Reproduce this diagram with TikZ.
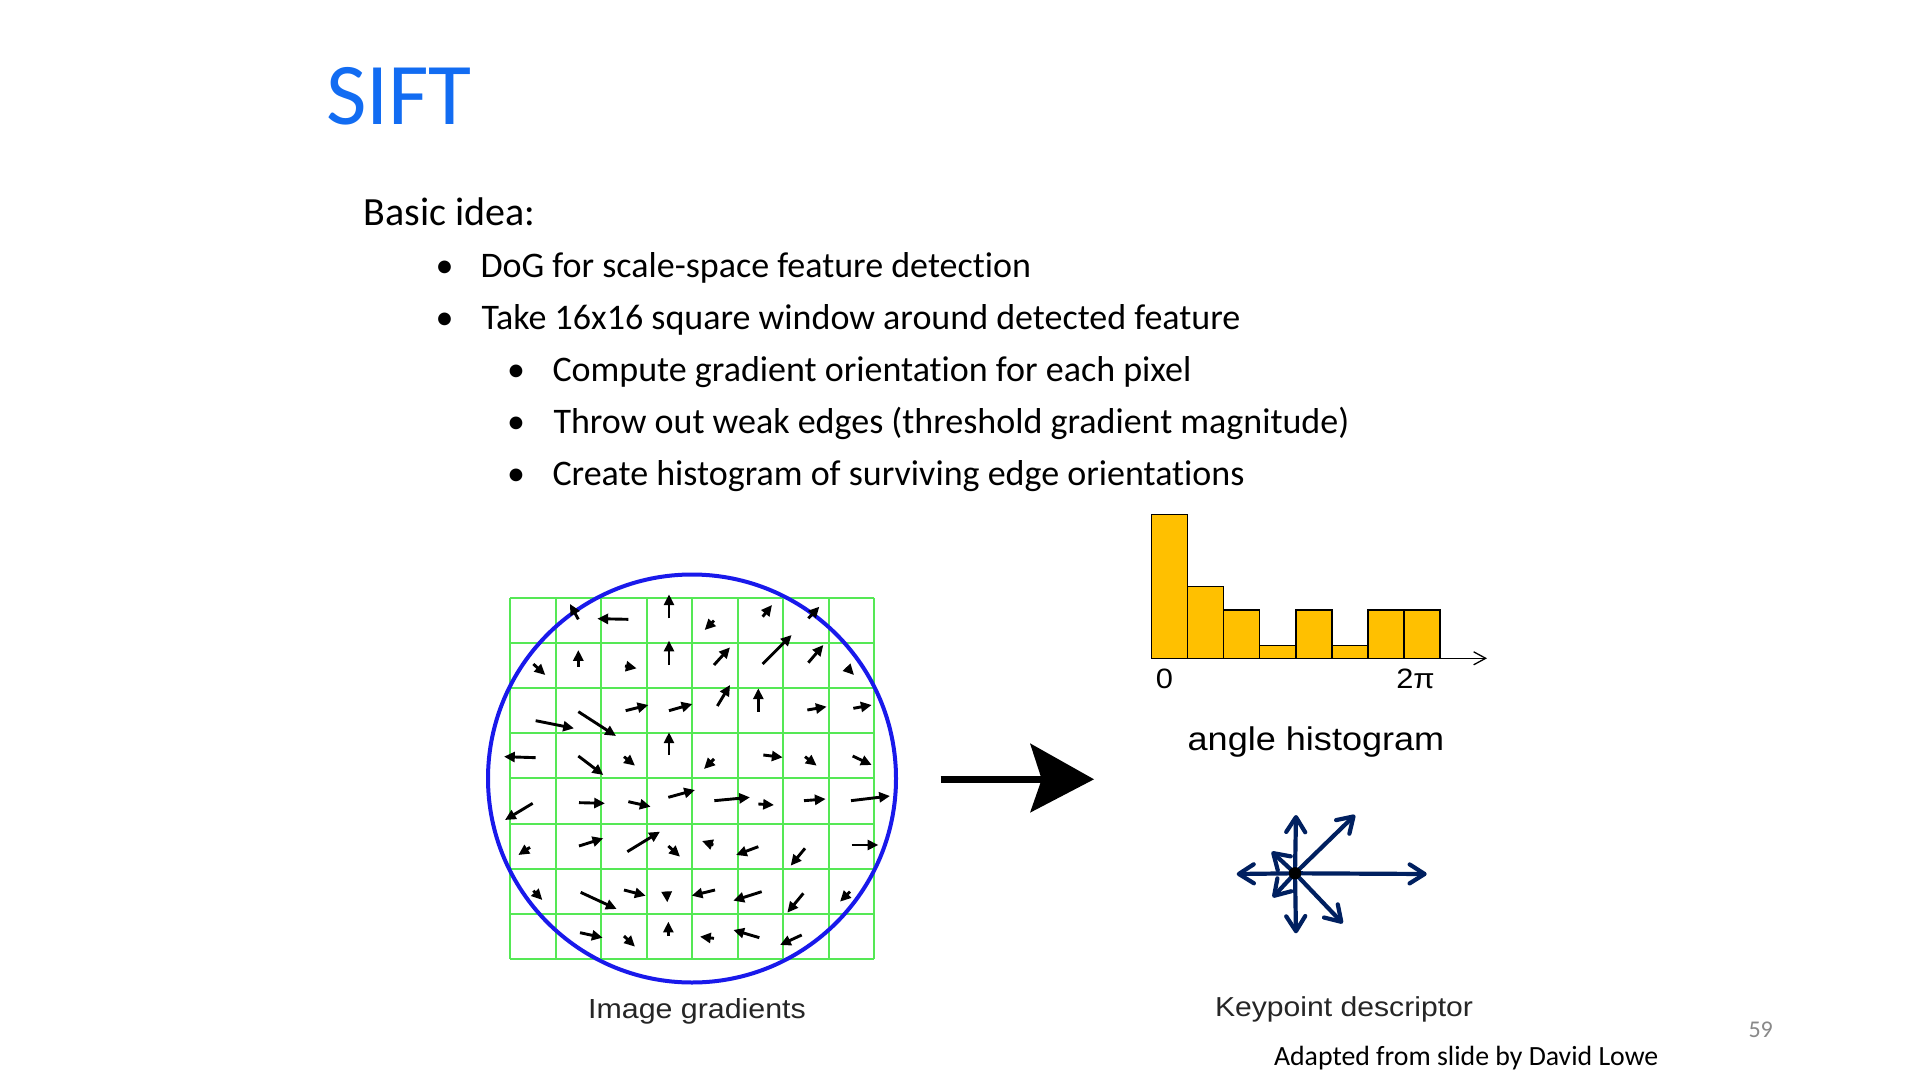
\documentclass[tikz,border=0pt]{standalone}
\usepackage{fontspec}
\setmainfont{Carlito}[Ligatures=NoCommon]
\newfontfamily\figfont[FakeStretch=1.1]{Liberation Sans}
\usetikzlibrary{arrows.meta}

\definecolor{titleblue}{RGB}{18,108,242}
\definecolor{gridgreen}{RGB}{85,232,85}
\definecolor{ringblue}{RGB}{25,25,235}
\definecolor{bargold}{RGB}{255,192,0}
\definecolor{navy}{RGB}{0,32,96}
\definecolor{pagegray}{RGB}{137,137,137}
\definecolor{labelgray}{RGB}{38,38,38}

\tikzset{
  txt/.style={anchor=base west, inner sep=0pt, outer sep=0pt},
  bodytxt/.style={txt, font=\fontsize{18}{22}\selectfont},
  bulletdot/.style={anchor=base, inner sep=0pt, font=\fontsize{18}{22}\selectfont},
  gridline/.style={draw=gridgreen, line width=1pt},
  ring/.style={draw=ringblue, line width=2pt},
  gradarrow/.style={line width=1.45pt, -{Triangle[length=5.4pt,width=5pt]}},
  histbar/.style={fill=bargold, draw=black, line width=0.65pt},
  descarrow/.style={draw=navy, line width=2.1pt, -{Straight Barb[round,length=7.5pt,width=9.5pt]}},
  figlabel/.style={inner sep=0pt, outer sep=0pt, anchor=base}
}

\begin{document}
\begin{tikzpicture}[x=0.5pt, y=-0.5pt]
  % page
  \fill[white] (0,0) rectangle (1920,1080);
  \useasboundingbox (0,0) rectangle (1920,1080);

  % title and bullet list
  \node[txt, text=titleblue, font=\fontsize{44}{50}\selectfont] (title) at (326,125) {SIFT};
  \node[txt, font=\fontsize{20}{24}\selectfont] (basic) at (363.5,226) {Basic idea:};

  \node[bulletdot] (b1) at (444.5,277.5) {\textbullet};
  \node[bodytxt] (l1) at (480.5,277.5) {DoG for scale-space feature detection};
  \node[bulletdot] (b2) at (444.5,329.5) {\textbullet};
  \node[bodytxt] (l2) at (481.5,329.5) {Take 16x16 square window around detected feature};
  \node[bulletdot] (b3) at (516,381.5) {\textbullet};
  \node[bodytxt] (l3) at (552.5,381.5) {Compute gradient orientation for each pixel};
  \node[bulletdot] (b4) at (516,433.5) {\textbullet};
  \node[bodytxt] (l4) at (553.5,433.5) {Throw out weak edges (threshold gradient magnitude)};
  \node[bulletdot] (b5) at (516,485) {\textbullet};
  \node[bodytxt] (l5) at (552.5,485) {Create histogram of surviving edge orientations};

  % 8x8 sample grid
  \foreach \i in {0,...,8} {
    \draw[gridline] ({510+45.5*\i},597.7) -- ({510+45.5*\i},959);
    \draw[gridline] (510,{597.7+45.16*\i}) -- (874,{597.7+45.16*\i});
  }
  % gaussian window
  \draw[ring] (692,778.5) circle[radius=204];

  % gradient arrows, given on a sub-grid three times finer
  \begin{scope}[shift={(480,560)}, scale=1/3]
    \foreach \ax/\ay/\bx/\by in {
      295/178/270/132, 445/178/352/176, 567/175/567/103, 702/182/674/210,
      848/170/876/135, 985/175/1018/140,
      160/312/196/345, 295/320/295/270, 435/318/470/325, 567/315/567/242,
      702/315/750/262, 848/312/935/225, 985/308/1030/255, 1100/322/1122/345,
      437/452/505/435, 567/452/637/432, 712/438/750/375, 835/455/835/385,
      982/450/1040/440, 1120/445/1175/435, 167/482/282/505, 295/455/408/528,
      167/593/72/590, 295/588/370/645, 432/590/465/617, 567/585/567/517,
      702/597/672/627, 850/585/908/592, 975/590/1010/617, 1118/588/1175/615,
      158/730/75/780, 297/728/375/730, 445/725/512/740, 565/712/645/690,
      703/722/810/712, 835/732/882/735, 972/722/1037/717, 1113/722/1230/708,
      150/862/115/885, 297/858/370/835, 442/875/540/815, 565/858/600/890,
      700/855/666/843, 835/860/768/885, 975/865/932/917, 1115/855/1195/855,
      160/992/187/1020, 302/997/410/1047, 432/990/497/1007, 560/995/562/1027,
      705/990/635/1007, 845/995/760/1022, 970/1000/922/1058, 1110/995/1080/1025,
      300/1118/368/1133, 432/1128/465/1160, 565/1128/565/1085, 702/1135/660/1130,
      838/1133/760/1110, 965/1125/900/1155}
      \draw[gradarrow] (\ax,\ay) -- (\bx,\by);
  \end{scope}

  \node[figlabel, text=labelgray, font=\figfont\fontsize{13.8}{16}\selectfont] (imglabel) at (697,1018.3) {Image gradients};

  % big arrow between the panels
  \coordinate (arrTail) at (940.7,779.3);
  \coordinate (arrNotch) at (1041.7,779.3);
  \coordinate (arrTip) at (1094,779.3);
  \draw[line width=3.65pt] (arrTail) -- (arrNotch);
  \fill (arrTip) -- (1030,743.3) -- (arrNotch) -- (1030,812.7) -- cycle;

  % orientation histogram
  \foreach \i/\h in {0/514.3, 1/586.7, 2/610, 3/645.7, 4/610, 5/645.7, 6/610, 7/610}
    \draw[histbar] ({1151.7+36.04*\i},658.3) rectangle ({1151.7+36.04*(\i+1)},\h);
  \coordinate (axL) at (1151.7,658.3);
  \coordinate (axR) at (1487,658.3);
  \draw[line width=0.65pt, -{Straight Barb[length=6pt,width=6.5pt]}] (axL) -- (axR);
  \node[figlabel, font=\figfont\fontsize{14}{16}\selectfont] (zero) at (1164.3,688.5) {0};
  \node[figlabel, font=\figfont\fontsize{14}{16}\selectfont] (twopi) at (1415.5,688.5) {2π};
  \node[figlabel, font=\figfont\fontsize{16.4}{19}\selectfont] (anglab) at (1316,750.5) {angle histogram};

  % keypoint descriptor
  \coordinate (kp) at (1295,873.3);
  \coordinate (dU) at (1296,815);
  \coordinate (dD) at (1296,933.3);
  \coordinate (dL) at (1236.7,874);
  \coordinate (dR) at (1426.7,874);
  \coordinate (dUR) at (1355,815);
  \coordinate (dDR) at (1342.7,923.3);
  \coordinate (dUL) at (1271.7,851.7);
  \coordinate (dDL) at (1272.7,897.3);
  \foreach \t in {dU,dD,dL,dR,dUR,dDR,dUL,dDL}
    \draw[descarrow] (kp) -- (\t);
  \fill[black] (kp) circle[radius=6.2];
  \node[txt, text=labelgray, font=\figfont\fontsize{13.7}{16}\selectfont] (kplabel) at (1215,1016) {Keypoint descriptor};

  % footer
  \node[txt, font=\fontsize{13.9}{16}\selectfont] (credit) at (1274,1065) {Adapted from slide by David Lowe};
  \node[txt, text=pagegray, font=\fontsize{12}{14}\selectfont] (pagenum) at (1748.5,1037.3) {59};
\end{tikzpicture}
\end{document}
